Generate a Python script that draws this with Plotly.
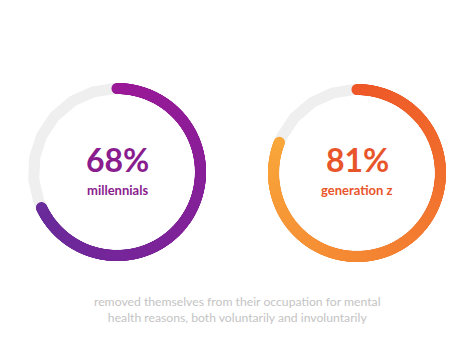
import numpy as np
import plotly.graph_objects as go

percentages = [68, 81]
labels = ["millennials", "generation z"]
value_texts = ["68%", "81%"]
caption_lines = ["removed themselves from their occupation for mental",
                 "health reasons, both voluntarily and involuntarily"]

centers = [(117, 172), (357, 173)]
radius = 83.5
thick = 11
grad_start = ["#9c1a98", "#ee5729"]
grad_end = ["#6a2c9b", "#f9a63b"]
text_colors = ["#8a1d8e", "#e9552a"]


def hex2rgb(h):
    h = h.lstrip('#')
    return tuple(int(h[i:i + 2], 16) for i in (0, 2, 4))


fig = go.Figure()
for i, pct in enumerate(percentages):
    cx, cy = centers[i]
    t = np.linspace(0, 2 * np.pi, 400)
    fig.add_trace(go.Scatter(x=cx + radius * np.sin(t), y=cy - radius * np.cos(t),
                             mode="lines", line=dict(color="#efefef", width=thick),
                             hoverinfo="skip", showlegend=False))
    n = 600
    th = np.linspace(0, pct / 100 * 2 * np.pi, n)
    s = np.array(hex2rgb(grad_start[i]))
    e = np.array(hex2rgb(grad_end[i]))
    f = np.linspace(0, 1, n)
    cols = [f"rgb({int(a)},{int(b)},{int(c)})" for a, b, c in (s[None, :] * (1 - f[:, None]) + e[None, :] * f[:, None])]
    fig.add_trace(go.Scatter(x=cx + radius * np.sin(th), y=cy - radius * np.cos(th),
                             mode="markers", marker=dict(size=thick, color=cols, line=dict(width=0)),
                             hoverinfo="skip", showlegend=False))
    fig.add_annotation(x=cx, y=181, text=f"<b>{value_texts[i]}</b>", showarrow=False,
                       font=dict(family="Lato", size=32, color=text_colors[i]),
                       xanchor="center", yanchor="bottom")
    fig.add_annotation(x=cx, y=180, text=f"<b>{labels[i]}</b>", showarrow=False,
                       font=dict(family="Lato", size=13, color=text_colors[i]),
                       xanchor="center", yanchor="top")

fig.add_annotation(x=237, y=309, text="<br>".join(caption_lines), showarrow=False,
                   font=dict(family="Lato", size=12.2, color="#c4c4c4"),
                   xanchor="center", yanchor="middle", align="center")

fig.update_layout(width=474, height=355, margin=dict(l=0, r=0, t=0, b=0),
                  paper_bgcolor="white", plot_bgcolor="white",
                  xaxis=dict(range=[0, 474], visible=False, fixedrange=True),
                  yaxis=dict(range=[355, 0], visible=False, fixedrange=True))
fig.write_html("out.html", config={"displayModeBar": False},
               post_script="document.body.style.margin='0';document.body.style.overflow='hidden';")
